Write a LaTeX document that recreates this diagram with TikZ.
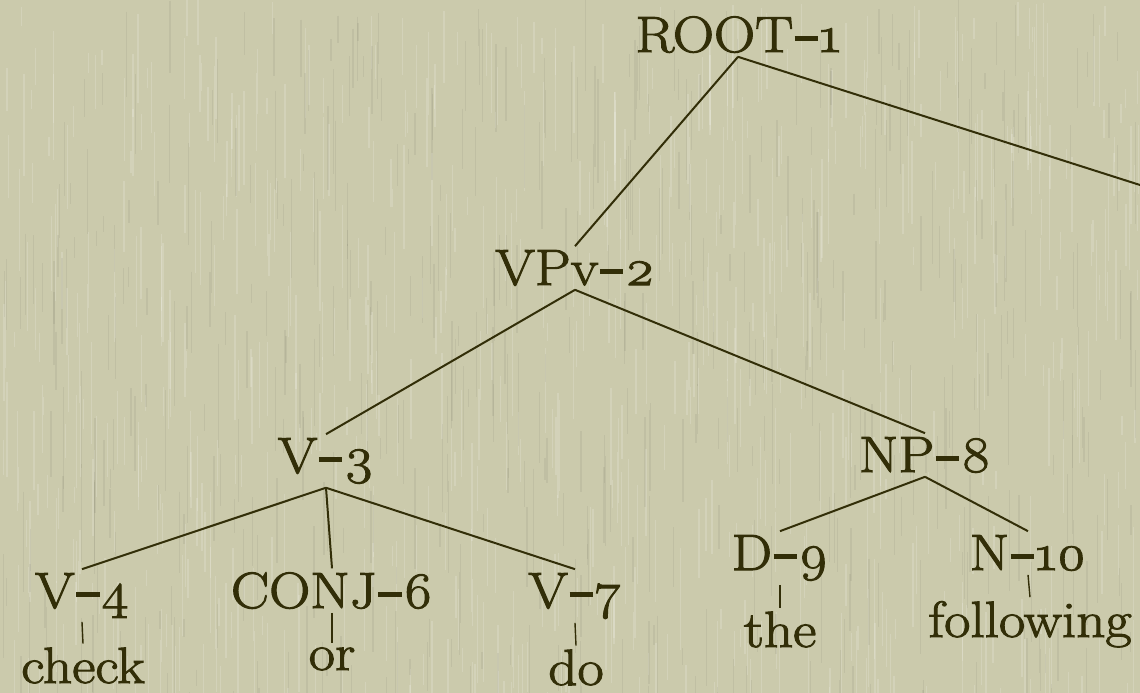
\documentclass[tikz,border=0pt]{standalone}
\usepackage{fontspec}
\setmainfont{Latin Modern Roman}[FakeBold=2, FakeStretch=1.12, Numbers=OldStyle]
\definecolor{bg}{RGB}{203,202,172}
\definecolor{ink}{RGB}{50,46,8}
\newcommand\on[1]{#1}
\newcommand\dsh{\kern1.5pt\rule[0.22em]{0.46em}{0.085em}\kern1.5pt}
\tikzset{
  lbl/.style={anchor=base, text=ink, font=\fontsize{51}{60}\selectfont, inner sep=4pt, outer sep=0pt},
  edge/.style={draw=ink, line width=2pt},
  tickline/.style={draw=ink, line width=1.4pt},
  streaklight/.style={draw=white, opacity=0.16, line width=1.3pt},
  streakdark/.style={draw=black, opacity=0.05, line width=1.3pt}
}
\begin{document}
\begin{tikzpicture}[x=1pt,y=-1pt]
\useasboundingbox (0,0) rectangle (1140,693);
\fill[bg] (0,0) rectangle (1140,693);
\begin{scope}
\clip (0,0) rectangle (1140,693);
\pgfmathsetseed{4242}
\foreach \i in {1,...,700}{
  \pgfmathsetmacro{\xa}{rnd*1140}
  \pgfmathsetmacro{\ya}{rnd*693}
  \pgfmathsetmacro{\la}{15+rnd*90}
  \draw[streaklight] (\xa,\ya) -- ++(0,\la);
}
\foreach \i in {1,...,500}{
  \pgfmathsetmacro{\xa}{rnd*1140}
  \pgfmathsetmacro{\ya}{rnd*693}
  \pgfmathsetmacro{\la}{15+rnd*90}
  \draw[streakdark] (\xa,\ya) -- ++(0,\la);
}
\end{scope}

\node[lbl] (root) at (738,52) {ROOT\dsh\on{1}};
\node[lbl] (vp) at (575,285) {VPv\dsh\on{2}};
\node[lbl] (v3) at (326,473) {V\dsh\on{3}};
\node[lbl] (np8) at (925,472) {NP\dsh\on{8}};
\node[lbl] (v4) at (82,608) {V\dsh\on{4}};
\node[lbl] (conj) at (332,608) {CONJ\dsh\on{6}};
\node[lbl] (v7) at (575,608) {V\dsh\on{7}};
\node[lbl] (d9) at (780,570) {D\dsh\on{9}};
\node[lbl] (n10) at (1028,570) {N\dsh\on{10}};
\node[lbl] (check) at (83,683) {check};
\node[lbl] (or) at (332,670) {or};
\node[lbl] (do) at (576,685) {do};
\node[lbl] (the) at (780,647) {the};
\node[lbl] (following) at (1030,637) {following};
\coordinate (offright) at (1140,185);

\draw[edge] (root.south) -- (vp.north);
\draw[edge] (root.south) -- (offright);
\draw[edge] (vp.south) -- (v3.north);
\draw[edge] (vp.south) -- (np8.north);
\draw[edge] (v3.south) -- (v4.north);
\draw[edge] (v3.south) -- (conj.north);
\draw[edge] (v3.south) -- (v7.north);
\draw[edge] (np8.south) -- (d9.north);
\draw[edge] (np8.south) -- (n10.north);
\draw[tickline] (v4.south) -- (check.north);
\draw[tickline] (conj.south) -- (or.north);
\draw[tickline] (v7.south) -- (do.north);
\draw[tickline] (d9.south) -- (the.north);
\draw[tickline] (n10.south) -- (following.north);
\end{tikzpicture}
\end{document}
